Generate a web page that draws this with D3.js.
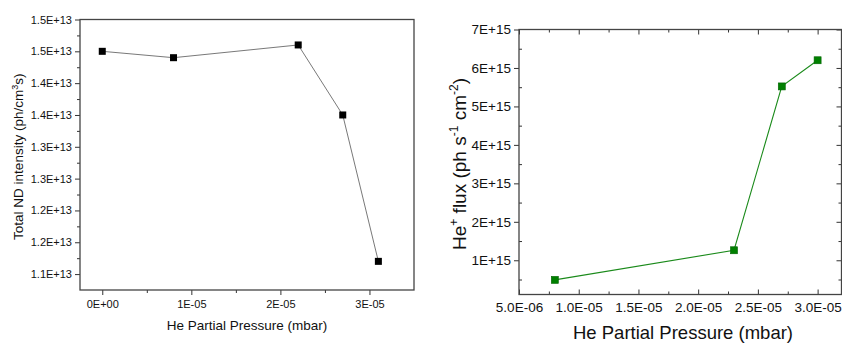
<!DOCTYPE html>
<html>
<head>
<meta charset="utf-8">
<script src="https://cdn.jsdelivr.net/npm/d3@7"></script>
<style>
  body { margin: 0; background: #fff; }
  svg { font-family: "Liberation Sans", Arial, sans-serif; }
  .frame { fill: none; stroke: #444; stroke-width: 1.3; }
  .axis path, .axis line { stroke: #333; }
  .axis text { fill: #111; }
</style>
</head>
<body>
<div id="chart"></div>
<script>
// left panel data
const ndPressure = [0, 0.8e-5, 2.2e-5, 2.7e-5, 3.1e-5];
const ndIntensity = [1.45e13, 1.44e13, 1.46e13, 1.35e13, 1.12e13];
const ndYTicks = [1.1e13, 1.15e13, 1.2e13, 1.25e13, 1.3e13, 1.35e13, 1.4e13, 1.45e13, 1.5e13];
const ndYLabels = ['1.1E+13', '1.2E+13', '1.2E+13', '1.3E+13', '1.3E+13', '1.4E+13', '1.4E+13', '1.5E+13', '1.5E+13'];
const ndXTicks = [0, 1e-5, 2e-5, 3e-5];
const ndXLabels = ['0E+00', '1E-05', '2E-05', '3E-05'];

// right panel data
const fluxPressure = [0.8e-5, 2.3e-5, 2.7e-5, 3.0e-5];
const fluxValue = [0.49e15, 1.26e15, 5.52e15, 6.2e15];
const fluxYTicks = [1e15, 2e15, 3e15, 4e15, 5e15, 6e15, 7e15];
const fluxYLabels = ['1E+15', '2E+15', '3E+15', '4E+15', '5E+15', '6E+15', '7E+15'];
const fluxXTicks = [0.5e-5, 1e-5, 1.5e-5, 2e-5, 2.5e-5, 3e-5];
const fluxXLabels = ['5.0E-06', '1.0E-05', '1.5E-05', '2.0E-05', '2.5E-05', '3.0E-05'];

const svg = d3.select('#chart').append('svg')
  .attr('width', 842)
  .attr('height', 343);

// half-way ticks between the labelled ones, kept inside the domain
function minors(ticks, step, domain) {
  const out = ticks.map(t => t - step / 2);
  out.push(ticks[ticks.length - 1] + step / 2);
  const eps = step * 0.01;
  return out.filter(v => v > domain[0] + eps && v < domain[1] - eps);
}

// ---------- left panel ----------
{
  const box = {left: 80, top: 19.5, right: 414, bottom: 290};
  const x = d3.scaleLinear().domain([-2.5e-6, 3.5e-5]).range([box.left, box.right]);
  const y = d3.scaleLinear().domain([1.075e13, 1.5e13]).range([box.bottom, box.top]);
  const g = svg.append('g');

  g.append('g').attr('class', 'axis')
    .attr('transform', `translate(${box.left},0)`)
    .call(d3.axisLeft(y).tickValues(minors(ndYTicks, 0.05e13, y.domain())).tickSize(3).tickFormat(''))
    .call(a => a.select('.domain').remove());
  g.append('g').attr('class', 'axis')
    .attr('transform', `translate(${box.left},0)`)
    .call(d3.axisLeft(y).tickValues(ndYTicks).tickSize(5).tickPadding(3)
      .tickFormat((d, i) => ndYLabels[i]))
    .call(a => a.select('.domain').remove())
    .selectAll('text').attr('font-size', 11);

  g.append('g').attr('class', 'axis')
    .attr('transform', `translate(0,${box.bottom})`)
    .call(d3.axisBottom(x).tickValues(minors(ndXTicks, 1e-5, x.domain())).tickSize(3).tickFormat(''))
    .call(a => a.select('.domain').remove());
  g.append('g').attr('class', 'axis')
    .attr('transform', `translate(0,${box.bottom})`)
    .call(d3.axisBottom(x).tickValues(ndXTicks).tickSize(5).tickPadding(5)
      .tickFormat((d, i) => ndXLabels[i]))
    .call(a => a.select('.domain').remove())
    .selectAll('text').attr('font-size', 11);

  g.append('rect').attr('class', 'frame')
    .attr('x', box.left).attr('y', box.top)
    .attr('width', box.right - box.left).attr('height', box.bottom - box.top);

  const pts = ndPressure.map((p, i) => [p, ndIntensity[i]]);
  g.append('path')
    .datum(pts)
    .attr('fill', 'none')
    .attr('stroke', '#555')
    .attr('stroke-width', 0.8)
    .attr('d', d3.line().x(d => x(d[0])).y(d => y(d[1])));
  g.selectAll('.ndpt').data(pts).enter().append('rect')
    .attr('class', 'ndpt')
    .attr('x', d => x(d[0]) - 3.5)
    .attr('y', d => y(d[1]) - 3.5)
    .attr('width', 7).attr('height', 7)
    .attr('fill', '#000');

  g.append('text')
    .attr('transform', `translate(23,${(box.top + box.bottom) / 2 + 2}) rotate(-90)`)
    .attr('text-anchor', 'middle')
    .attr('font-size', 13.5)
    .attr('fill', '#111')
    .html('Total ND intensity (ph/cm<tspan dy="-5" font-size="9">3</tspan><tspan dy="5">s)</tspan>');
  g.append('text')
    .attr('x', 247).attr('y', 330)
    .attr('text-anchor', 'middle')
    .attr('font-size', 13.5)
    .attr('fill', '#111')
    .text('He Partial Pressure (mbar)');
}

// ---------- right panel ----------
{
  const box = {left: 519, top: 29.5, right: 841.5, bottom: 294.5};
  const x = d3.scaleLinear().domain([0.5e-5, 3.2e-5]).range([box.left, box.right]);
  const y = d3.scaleLinear().domain([0.11e15, 7e15]).range([box.bottom, box.top]);
  const g = svg.append('g');

  const yMinor = minors(fluxYTicks, 1e15, y.domain());
  const xMinor = minors(fluxXTicks, 0.5e-5, x.domain());

  g.append('g').attr('class', 'axis')
    .attr('transform', `translate(${box.left},0)`)
    .call(d3.axisRight(y).tickValues(yMinor).tickSize(3).tickFormat(''))
    .call(a => a.select('.domain').remove());
  g.append('g').attr('class', 'axis')
    .attr('transform', `translate(${box.left},0)`)
    .call(d3.axisLeft(y).tickValues(fluxYTicks).tickSize(5).tickPadding(3)
      .tickFormat((d, i) => fluxYLabels[i]))
    .call(a => a.select('.domain').remove())
    .selectAll('text').attr('font-size', 13.5);
  g.append('g').attr('class', 'axis')
    .attr('transform', `translate(${box.right},0)`)
    .call(d3.axisLeft(y).tickValues(fluxYTicks).tickSize(5).tickFormat(''))
    .call(a => a.select('.domain').remove());
  g.append('g').attr('class', 'axis')
    .attr('transform', `translate(${box.right},0)`)
    .call(d3.axisLeft(y).tickValues(yMinor).tickSize(3).tickFormat(''))
    .call(a => a.select('.domain').remove());

  // x ticks point inwards, labels still sit below the axis
  g.append('g').attr('class', 'axis')
    .attr('transform', `translate(0,${box.bottom})`)
    .call(d3.axisTop(x).tickValues(xMinor).tickSize(3).tickFormat(''))
    .call(a => a.select('.domain').remove());
  const xa = g.append('g').attr('class', 'axis')
    .attr('transform', `translate(0,${box.bottom})`)
    .call(d3.axisTop(x).tickValues(fluxXTicks).tickSize(5).tickFormat((d, i) => fluxXLabels[i]))
    .call(a => a.select('.domain').remove());
  xa.selectAll('text')
    .attr('font-size', 13.5)
    .attr('y', 17.5);

  g.append('g').attr('class', 'axis')
    .attr('transform', `translate(0,${box.top})`)
    .call(d3.axisBottom(x).tickValues(fluxXTicks).tickSize(5).tickFormat(''))
    .call(a => a.select('.domain').remove());
  g.append('g').attr('class', 'axis')
    .attr('transform', `translate(0,${box.top})`)
    .call(d3.axisBottom(x).tickValues(xMinor).tickSize(3).tickFormat(''))
    .call(a => a.select('.domain').remove());

  g.append('rect').attr('class', 'frame')
    .attr('x', box.left).attr('y', box.top)
    .attr('width', box.right - box.left).attr('height', box.bottom - box.top)
    .attr('stroke', '#666');

  const pts = fluxPressure.map((p, i) => [p, fluxValue[i]]);
  g.append('path')
    .datum(pts)
    .attr('fill', 'none')
    .attr('stroke', '#1a8a1a')
    .attr('stroke-width', 1.1)
    .attr('d', d3.line().x(d => x(d[0])).y(d => y(d[1])));
  g.selectAll('.fpt').data(pts).enter().append('rect')
    .attr('class', 'fpt')
    .attr('x', d => x(d[0]) - 3.5)
    .attr('y', d => y(d[1]) - 3.5)
    .attr('width', 7).attr('height', 7)
    .attr('fill', '#008000')
    .attr('stroke', '#006400')
    .attr('stroke-width', 0.6);

  g.append('text')
    .attr('transform', `translate(466,${(box.top + box.bottom) / 2 + 2}) rotate(-90)`)
    .attr('text-anchor', 'middle')
    .attr('font-size', 19)
    .attr('fill', '#111')
    .html('He<tspan dy="-8" font-size="12">+</tspan><tspan dy="8"> flux (ph s</tspan><tspan dy="-8" font-size="12">-1</tspan><tspan dy="8"> cm</tspan><tspan dy="-8" font-size="12">-2</tspan><tspan dy="8">)</tspan>');
  g.append('text')
    .attr('x', 683).attr('y', 339)
    .attr('text-anchor', 'middle')
    .attr('font-size', 18.5)
    .attr('fill', '#111')
    .text('He Partial Pressure (mbar)');
}
</script>
</body>
</html>
